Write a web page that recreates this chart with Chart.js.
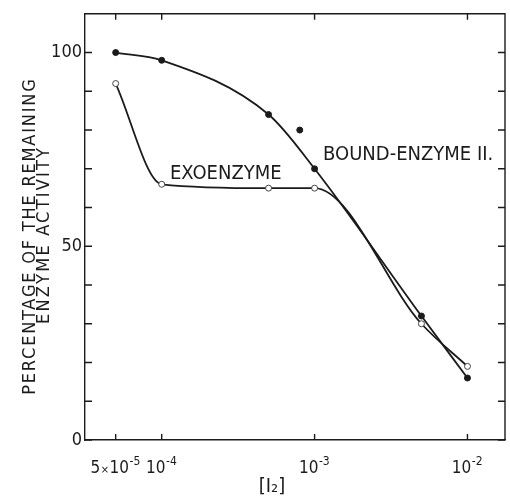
<!DOCTYPE html>
<html>
<head>
<meta charset="utf-8">
<title>Iodine inactivation</title>
<script src="https://cdn.jsdelivr.net/npm/chart.js@4.4.1/dist/chart.umd.min.js"></script>
<style>
    html, body { margin: 0; padding: 0; background: #fff; }
    #activity-chart { display: block; }
</style>
</head>
<body>
<canvas id="activity-chart" width="510" height="497"></canvas>
<script>
// [I2] concentrations and remaining activity (%)
const boundConc = [5e-5, 1e-4, 5e-4, 8e-4, 1e-3, 5e-3, 1e-2];
const boundActivity = [100, 98, 84, 80, 70, 32, 16];
const boundOffCurve = [3];   // measured point the drawn curve does not pass through
const exoConc = [5e-5, 1e-4, 5e-4, 1e-3, 5e-3, 1e-2];
const exoActivity = [92, 66, 65, 65, 30, 19];

// axis ticks
const xTickValues = [5e-5, 1e-4, 1e-3, 1e-2];
const xTickMantissa = ['5', '', '', ''];
const xTickExponent = ['-5', '-4', '-3', '-2'];
const yLabelledTicks = [0, 50, 100];

const FONT = "'DejaVu Sans Condensed', 'Liberation Sans Narrow', 'DejaVu Sans', sans-serif";
const INK = '#1b1b1b';

document.addEventListener('DOMContentLoaded', function() {
    const ctx = document.getElementById('activity-chart').getContext('2d');

    function toPoints(xs, ys) {
        return xs.map((x, i) => ({ x: x, y: ys[i] }));
    }

    // x labels written as powers of ten
    function drawPowerLabel(ctx, cx, i) {
        const parts = [];
        if (xTickMantissa[i]) {
            parts.push({ text: xTickMantissa[i], size: 17, rise: 0 });
            parts.push({ text: '×', size: 11, rise: 0 });
        }
        parts.push({ text: '10', size: 17, rise: 0 });
        parts.push({ text: xTickExponent[i], size: 12, rise: 8 });

        let total = 0;
        parts.forEach(p => {
            ctx.font = p.size + 'px ' + FONT;
            p.w = ctx.measureText(p.text).width + 0.5;
            total += p.w;
        });
        let x = cx - total / 2;
        parts.forEach(p => {
            ctx.font = p.size + 'px ' + FONT;
            ctx.fillText(p.text, x, 473 - p.rise);
            x += p.w;
        });
    }

    function drawVerticalText(ctx, text, x, y, spacing) {
        ctx.save();
        ctx.translate(x, y);
        ctx.rotate(-Math.PI / 2);
        ctx.letterSpacing = spacing + 'px';
        ctx.fillText(text, spacing / 2, 0);
        ctx.restore();
    }

    // frame, inward ticks and the free text
    const framePlugin = {
        id: 'frame',
        afterDraw(chart) {
            const { ctx, chartArea: area, scales } = chart;
            ctx.save();
            ctx.strokeStyle = INK;
            ctx.lineWidth = 1.4;

            // top and right edges
            ctx.beginPath();
            ctx.moveTo(area.left, area.top);
            ctx.lineTo(area.right, area.top);
            ctx.lineTo(area.right, area.bottom);
            ctx.stroke();

            // ticks pointing into the plot
            ctx.beginPath();
            scales.y.ticks.forEach(t => {
                if (t.value >= scales.y.max) return;
                const py = scales.y.getPixelForValue(t.value);
                ctx.moveTo(area.left, py);
                ctx.lineTo(area.left + 7, py);
                ctx.moveTo(area.right, py);
                ctx.lineTo(area.right - 7, py);
            });
            scales.x.ticks.forEach(t => {
                const px = scales.x.getPixelForValue(t.value);
                ctx.moveTo(px, area.bottom);
                ctx.lineTo(px, area.bottom - 6);
                ctx.moveTo(px, area.top);
                ctx.lineTo(px, area.top + 6);
            });
            ctx.stroke();

            ctx.fillStyle = INK;
            ctx.textBaseline = 'alphabetic';

            // tick labels on the log axis
            ctx.textAlign = 'left';
            scales.x.ticks.forEach((t, i) => {
                drawPowerLabel(ctx, scales.x.getPixelForValue(t.value), i);
            });

            // curve names
            ctx.font = '20px ' + FONT;
            ctx.fillText('EXOENZYME', 170, 179);
            ctx.fillText('BOUND-ENZYME II.', 323, 160);

            // x axis title
            ctx.textAlign = 'center';
            ctx.font = '20px ' + FONT;
            ctx.fillText('[I₂]', 272, 492);

            // y axis title, two lines
            ctx.font = '18px ' + FONT;
            drawVerticalText(ctx, 'PERCENTAGE OF THE REMAINING', 35, 237, 1.8);
            drawVerticalText(ctx, 'ENZYME ACTIVITY', 49, 236, 2.2);

            ctx.restore();
        }
    };

    new Chart(ctx, {
        type: 'line',
        data: {
            datasets: [{
                label: 'BOUND-ENZYME II. points',
                data: toPoints(boundConc, boundActivity),
                showLine: false,
                pointStyle: 'circle',
                pointRadius: 3,
                pointBorderWidth: 1,
                pointBackgroundColor: INK,
                pointBorderColor: INK
            }, {
                label: 'EXOENZYME',
                data: toPoints(exoConc, exoActivity),
                borderColor: INK,
                borderWidth: 1.8,
                backgroundColor: '#fff',
                pointStyle: 'circle',
                pointRadius: 3,
                pointBorderWidth: 1,
                pointBackgroundColor: '#fff',
                pointBorderColor: '#444',
                cubicInterpolationMode: 'monotone',
                fill: false
            }, {
                label: 'BOUND-ENZYME II.',
                data: toPoints(boundConc, boundActivity).filter((p, i) => !boundOffCurve.includes(i)),
                borderColor: INK,
                borderWidth: 1.8,
                pointRadius: 0,
                cubicInterpolationMode: 'monotone',
                fill: false
            }]
        },
        options: {
            responsive: false,
            animation: false,
            layout: {
                padding: { top: 13, right: 1, left: 0, bottom: 0 }
            },
            plugins: {
                legend: { display: false },
                tooltip: { enabled: false }
            },
            scales: {
                x: {
                    type: 'logarithmic',
                    min: 3.15e-5,
                    max: 1.76e-2,
                    afterBuildTicks: function(scale) {
                        scale.ticks = xTickValues.map(v => ({ value: v }));
                    },
                    afterFit: function(scale) {
                        scale.height = 57;
                    },
                    grid: { drawOnChartArea: false, drawTicks: false },
                    border: { display: true, color: INK, width: 1.4 },
                    ticks: { display: false }
                },
                y: {
                    min: 0,
                    max: 110,
                    afterFit: function(scale) {
                        scale.width = 85;
                    },
                    grid: { drawOnChartArea: false, drawTicks: false },
                    border: { display: true, color: INK, width: 1.4 },
                    ticks: {
                        stepSize: 10,
                        padding: 3,
                        color: INK,
                        font: { family: FONT, size: 18 },
                        callback: function(value) {
                            return yLabelledTicks.includes(value) ? value : '';
                        }
                    }
                }
            }
        },
        plugins: [framePlugin]
    });
});
</script>
</body>
</html>
